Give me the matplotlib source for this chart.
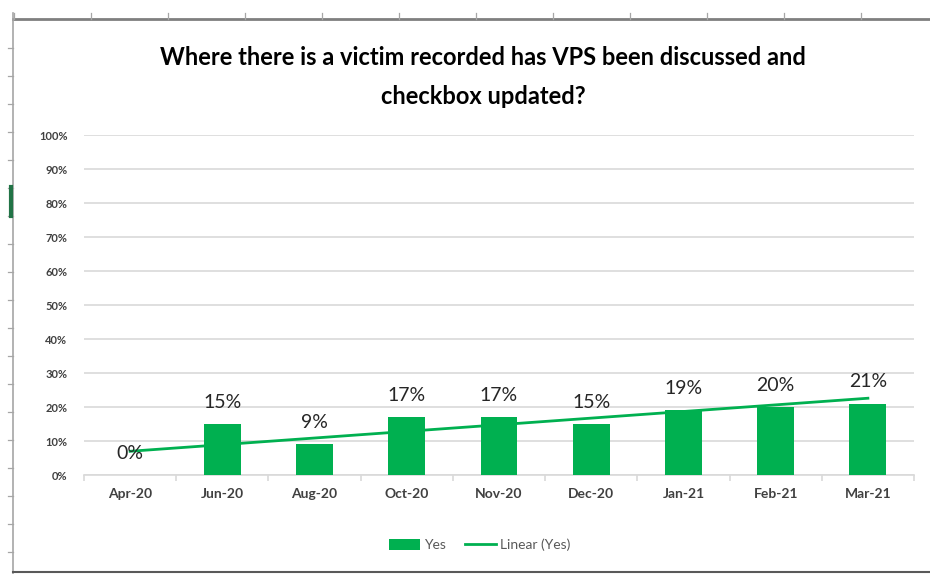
import numpy as np
import matplotlib
matplotlib.use('Agg')
import matplotlib.pyplot as plt
from matplotlib.lines import Line2D
from matplotlib.patches import Patch
from matplotlib.ticker import PercentFormatter

# ── data ───────────────────────────────────────────────────────────────────────
months = ['Apr-20', 'Jun-20', 'Aug-20', 'Oct-20', 'Nov-20', 'Dec-20', 'Jan-21', 'Feb-21', 'Mar-21']
yes_pct = [0.00, 0.15, 0.09, 0.17, 0.17, 0.15, 0.19, 0.20, 0.21]
bar_labels = ['0%', '15%', '9%', '17%', '17%', '15%', '19%', '20%', '21%']
yticks = [0.0, 0.1, 0.2, 0.3, 0.4, 0.5, 0.6, 0.7, 0.8, 0.9, 1.0]

GREEN = '#00B050'
TXT = '#262626'
FAM = ['Lato', 'DejaVu Sans']

W, H = 930, 574
fig = plt.figure(figsize=(W / 100, H / 100), dpi=100)

def fx(px):
    return px / W

def fy(py):
    return 1 - py / H

# ── screenshot frame (sheet borders / ruler ticks) ─────────────────────────────
frame = '#7f7f7f'
fig.add_artist(Line2D([fx(13), 1], [fy(19), fy(19)], color=frame, lw=2.0))
fig.add_artist(Line2D([fx(13), fx(13)], [fy(13), fy(574)], color='#a6a6a6', lw=1.2))
fig.add_artist(Line2D([fx(13), 1], [fy(572), fy(572)], color='#595959', lw=1.5))
for tx in np.arange(14, 930, 77):
    fig.add_artist(Line2D([fx(tx), fx(tx)], [fy(13), fy(19)], color='#a6a6a6', lw=0.9))
for ty in np.arange(48, 574, 28):
    fig.add_artist(Line2D([fx(8), fx(13)], [fy(ty), fy(ty)], color='#a6a6a6', lw=0.9))
fig.add_artist(Line2D([fx(11), fx(11)], [fy(187), fy(216)], color='#217346', lw=3))

# ── chart ──────────────────────────────────────────────────────────────────────
ax = fig.add_axes([fx(84), fy(475), fx(914) - fx(84), fy(135) - fy(475)])
x = np.arange(len(months))

ax.bar(x, yes_pct, width=0.4, color=GREEN, zorder=3)

# linear trendline, as Excel's "Linear (Yes)"
coef = np.polyfit(x, yes_pct, 1)
ax.plot(x, np.polyval(coef, x), color=GREEN, lw=2, zorder=4)

for xi, v, lab in zip(x, yes_pct, bar_labels):
    ax.annotate(lab, (xi, v), xytext=(0, 9.5), textcoords='offset points',
                ha='center', va='bottom', fontsize=14, color=TXT,
                family=FAM, zorder=5)

ax.set_xlim(-0.5, len(months) - 0.5)
ax.set_ylim(0, 1)
ax.set_yticks(yticks)
ax.yaxis.set_major_formatter(PercentFormatter(1.0, decimals=0))
ax.set_xticks(x)
ax.set_xticklabels(months)
ax.set_xticks(np.arange(-0.5, len(months), 1), minor=True)

ax.grid(axis='y', color='#d9d9d9', lw=1.2, zorder=0)
for s in ['top', 'right', 'left']:
    ax.spines[s].set_visible(False)
ax.spines['bottom'].set_color('#d9d9d9')
ax.spines['bottom'].set_linewidth(1.2)

ax.tick_params(axis='y', length=0, pad=12, labelsize=8, labelcolor='#404040')
ax.tick_params(axis='x', which='major', length=0, pad=9, labelsize=10, labelcolor='#404040')
ax.tick_params(axis='x', which='minor', length=4, color='#d9d9d9', width=1.2)
for lab in ax.get_xticklabels() + ax.get_yticklabels():
    lab.set_family(FAM)
    lab.set_fontweight('bold')

fig.text(fx(483), fy(77), 'Where there is a victim recorded has VPS been discussed and\ncheckbox updated?',
         ha='center', va='center', fontsize=17, fontweight='bold', color='#000000',
         family=FAM, linespacing=1.85)

handles = [Patch(facecolor=GREEN, edgecolor='none'),
           Line2D([0], [0], color=GREEN, lw=2)]
fig.legend(handles, ['Yes', 'Linear (Yes)'], loc='center', bbox_to_anchor=(fx(480), fy(545)),
           ncol=2, frameon=False, prop={'family': FAM, 'size': 10},
           labelcolor='#595959', handlelength=2.2, handleheight=0.9,
           handletextpad=0.3, columnspacing=1.4)

fig.savefig('out.png', dpi=100)
